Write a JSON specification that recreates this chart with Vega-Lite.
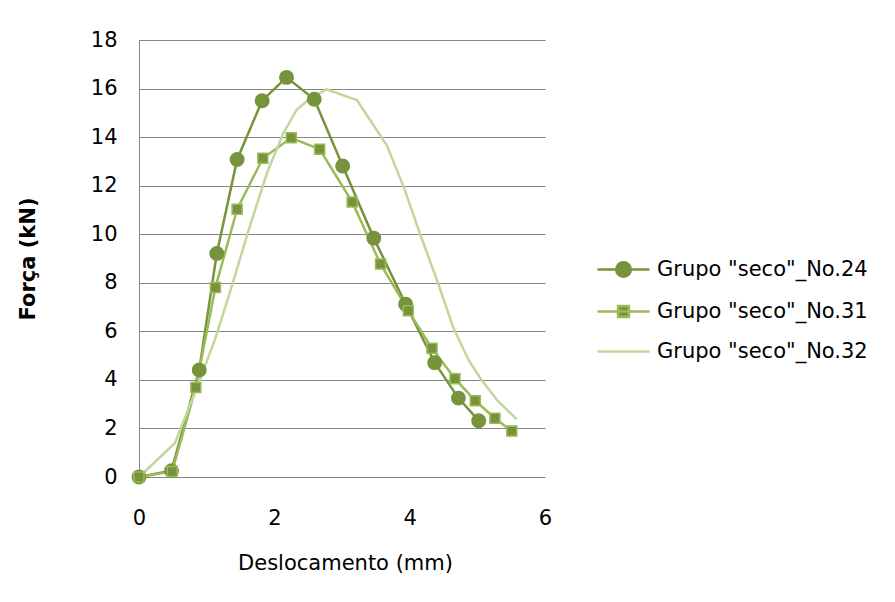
{
  "$schema": "https://vega.github.io/schema/vega-lite/v6.json",
  "width": 406,
  "height": 437,
  "autosize": {"type": "none"},
  "padding": {"left": 139, "top": 40, "right": 350, "bottom": 125},
  "background": "white",
  "config": {
    "view": {"stroke": null},
    "font": "DejaVu Sans",
    "axis": {"labelFont": "DejaVu Sans", "titleFont": "DejaVu Sans", "labelColor": "black", "titleColor": "black", "labelFontSize": 21, "titleFontSize": 21, "ticks": false, "labelFlush": false, "labelOverlap": false, "gridColor": "#868686", "gridWidth": 1, "gridOpacity": 1, "domainColor": "#868686", "domainWidth": 1}
  },
  "data": {"values": [
    {"series": "Grupo \"seco\"_No.24", "x": 0, "y": 0},
    {"series": "Grupo \"seco\"_No.24", "x": 0.48, "y": 0.26},
    {"series": "Grupo \"seco\"_No.24", "x": 0.89, "y": 4.41},
    {"series": "Grupo \"seco\"_No.24", "x": 1.15, "y": 9.21},
    {"series": "Grupo \"seco\"_No.24", "x": 1.45, "y": 13.08},
    {"series": "Grupo \"seco\"_No.24", "x": 1.82, "y": 15.5},
    {"series": "Grupo \"seco\"_No.24", "x": 2.18, "y": 16.46},
    {"series": "Grupo \"seco\"_No.24", "x": 2.59, "y": 15.56},
    {"series": "Grupo \"seco\"_No.24", "x": 3.01, "y": 12.81},
    {"series": "Grupo \"seco\"_No.24", "x": 3.47, "y": 9.84},
    {"series": "Grupo \"seco\"_No.24", "x": 3.94, "y": 7.12},
    {"series": "Grupo \"seco\"_No.24", "x": 4.37, "y": 4.71},
    {"series": "Grupo \"seco\"_No.24", "x": 4.72, "y": 3.25},
    {"series": "Grupo \"seco\"_No.24", "x": 5.02, "y": 2.32},
    {"series": "Grupo \"seco\"_No.31", "x": 0, "y": 0},
    {"series": "Grupo \"seco\"_No.31", "x": 0.49, "y": 0.23},
    {"series": "Grupo \"seco\"_No.31", "x": 0.84, "y": 3.69},
    {"series": "Grupo \"seco\"_No.31", "x": 1.13, "y": 7.81},
    {"series": "Grupo \"seco\"_No.31", "x": 1.45, "y": 11.03},
    {"series": "Grupo \"seco\"_No.31", "x": 1.83, "y": 13.13},
    {"series": "Grupo \"seco\"_No.31", "x": 2.25, "y": 13.97},
    {"series": "Grupo \"seco\"_No.31", "x": 2.67, "y": 13.5},
    {"series": "Grupo \"seco\"_No.31", "x": 3.15, "y": 11.33},
    {"series": "Grupo \"seco\"_No.31", "x": 3.57, "y": 8.77},
    {"series": "Grupo \"seco\"_No.31", "x": 3.98, "y": 6.85},
    {"series": "Grupo \"seco\"_No.31", "x": 4.33, "y": 5.3},
    {"series": "Grupo \"seco\"_No.31", "x": 4.67, "y": 4.05},
    {"series": "Grupo \"seco\"_No.31", "x": 4.97, "y": 3.14},
    {"series": "Grupo \"seco\"_No.31", "x": 5.26, "y": 2.42},
    {"series": "Grupo \"seco\"_No.31", "x": 5.51, "y": 1.89},
    {"series": "Grupo \"seco\"_No.32", "x": 0, "y": 0},
    {"series": "Grupo \"seco\"_No.32", "x": 0.53, "y": 1.39},
    {"series": "Grupo \"seco\"_No.32", "x": 0.88, "y": 3.86},
    {"series": "Grupo \"seco\"_No.32", "x": 1.12, "y": 5.64},
    {"series": "Grupo \"seco\"_No.32", "x": 1.34, "y": 7.57},
    {"series": "Grupo \"seco\"_No.32", "x": 1.62, "y": 10.17},
    {"series": "Grupo \"seco\"_No.32", "x": 1.89, "y": 12.51},
    {"series": "Grupo \"seco\"_No.32", "x": 2.13, "y": 14.15},
    {"series": "Grupo \"seco\"_No.32", "x": 2.33, "y": 15.12},
    {"series": "Grupo \"seco\"_No.32", "x": 2.53, "y": 15.6},
    {"series": "Grupo \"seco\"_No.32", "x": 2.77, "y": 15.97},
    {"series": "Grupo \"seco\"_No.32", "x": 3.22, "y": 15.53},
    {"series": "Grupo \"seco\"_No.32", "x": 3.66, "y": 13.67},
    {"series": "Grupo \"seco\"_No.32", "x": 3.91, "y": 11.96},
    {"series": "Grupo \"seco\"_No.32", "x": 4.15, "y": 10.04},
    {"series": "Grupo \"seco\"_No.32", "x": 4.42, "y": 7.98},
    {"series": "Grupo \"seco\"_No.32", "x": 4.64, "y": 6.19},
    {"series": "Grupo \"seco\"_No.32", "x": 4.87, "y": 4.82},
    {"series": "Grupo \"seco\"_No.32", "x": 5.06, "y": 4.0},
    {"series": "Grupo \"seco\"_No.32", "x": 5.29, "y": 3.17},
    {"series": "Grupo \"seco\"_No.32", "x": 5.58, "y": 2.38}
  ]},
  "encoding": {
    "x": {"field": "x", "type": "quantitative", "scale": {"domain": [0, 6], "nice": false},
      "axis": {"title": "Deslocamento (mm)", "values": [0, 2, 4, 6], "grid": false, "domain": false, "labelPadding": 30, "titleX": 206, "titleY": 86, "titleBaseline": "middle", "titleAlign": "center", "titleFontWeight": "normal"}},
    "y": {"field": "y", "type": "quantitative", "scale": {"domain": [0, 18], "nice": false},
      "axis": {"title": "Força (kN)", "values": [0, 2, 4, 6, 8, 10, 12, 14, 16, 18], "grid": true, "domain": true, "labelPadding": 22, "titleX": -111, "titleY": 218.5, "titleAngle": -90, "titleAlign": "center", "titleBaseline": "middle", "titleFontWeight": "bold"}},
    "color": {"field": "series", "type": "nominal",
      "scale": {"domain": ["Grupo \"seco\"_No.24", "Grupo \"seco\"_No.31", "Grupo \"seco\"_No.32"], "range": ["#77933C", "#9BBB59", "#C3D69B"]},
      "legend": {"title": null, "orient": "none", "legendX": 470, "legendY": 215, "padding": 0, "symbolSize": 676, "symbolStrokeWidth": 2.5, "labelOffset": 19, "rowPadding": 15, "labelFont": "DejaVu Sans", "labelFontSize": 21, "labelColor": "black", "labelLimit": 0, "symbolOpacity": 1,
        "encode": {"symbols": {"update": {
          "shape": {"signal": "['M-2,0H2M-0.56,0A0.56,0.56 0 1,0 0.56,0A0.56,0.56 0 1,0 -0.56,0Z','M-2,0H2M-0.42,-0.42H0.42V0.42H-0.42Z','M-2,0H2'][datum.index]"},
          "fill": {"value": "#77933C"},
          "fillOpacity": {"value": 1}
        }}}}
    }
  },
  "layer": [
    {"mark": {"type": "line", "strokeWidth": 2.5}},
    {"transform": [{"filter": "datum.series !== 'Grupo \"seco\"_No.32'"}],
     "mark": {"type": "point", "filled": false, "fill": "#77933C", "fillOpacity": 1, "strokeWidth": 1.5, "opacity": 1},
     "encoding": {
       "shape": {"field": "series", "type": "nominal", "scale": {"domain": ["Grupo \"seco\"_No.24", "Grupo \"seco\"_No.31"], "range": ["circle", "square"]}, "legend": null},
       "size": {"field": "series", "type": "nominal", "scale": {"domain": ["Grupo \"seco\"_No.24", "Grupo \"seco\"_No.31"], "range": [180, 100]}, "legend": null}
     }}
  ]
}
